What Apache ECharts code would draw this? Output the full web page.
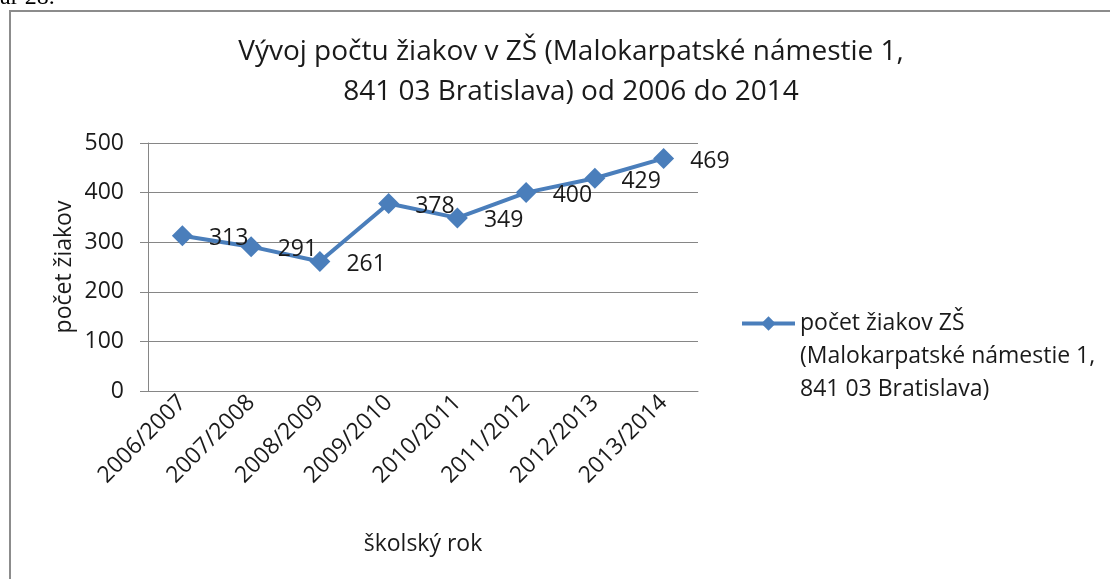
<!DOCTYPE html>
<html>
<head>
<meta charset="utf-8">
<script src="https://cdn.jsdelivr.net/npm/echarts@6/dist/echarts.min.js"></script>
<style>
  html, body { margin: 0; padding: 0; background: #fff; }
  #chart { width: 1110px; height: 579px; }
</style>
</head>
<body>
<div id="chart"></div>
<script>
// školské roky a počty žiakov
var years = ['2006/2007', '2007/2008', '2008/2009', '2009/2010', '2010/2011', '2011/2012', '2012/2013', '2013/2014'];
var pupils = [313, 291, 261, 378, 349, 400, 429, 469];
var yTicks = [0, 100, 200, 300, 400, 500];

var seriesName = 'počet žiakov ZŠ\n(Malokarpatské námestie 1,\n841 03 Bratislava)';
var font = '"Open Sans", "Noto Sans", sans-serif';
var blue = '#4a7ebb';
var ink = '#1a1a1a';

var chart = echarts.init(document.getElementById('chart'));

chart.setOption({
    backgroundColor: '#fff',
    animation: false,
    textStyle: { fontFamily: font, color: ink },
    title: {
        text: 'Vývoj počtu žiakov v ZŠ (Malokarpatské námestie 1,\n841 03 Bratislava) od 2006 do 2014',
        left: 566,
        textAlign: 'center',
        top: 27,
        textStyle: { fontFamily: font, fontSize: 28, fontWeight: 'normal', color: ink, lineHeight: 40 }
    },
    graphic: [
        {
            type: 'rect',
            shape: { x: 10, y: 11, width: 1110, height: 600 },
            style: { fill: 'none', stroke: '#8c8c8c', lineWidth: 2 },
            silent: true
        },
        {
            type: 'text',
            left: 0,
            top: -14,
            style: { text: 'ar 28.', font: '24px "Liberation Serif", serif', fill: '#000' },
            silent: true
        }
    ],
    legend: {
        data: [seriesName],
        left: 740,
        top: 241,
        padding: 0,
        itemWidth: 53,
        itemHeight: 18,
        itemGap: 0,
        lineStyle: { width: 4, color: blue },
        itemStyle: { color: blue },
        // dva prázdne riadky navrch, aby bol prvý riadok pri ikone
        formatter: function (name) { return '\n\n' + name; },
        textStyle: { fontFamily: font, fontSize: 23, color: ink, lineHeight: 33 }
    },
    grid: { left: 148, top: 143, width: 550, height: 248, containLabel: false },
    xAxis: {
        type: 'category',
        data: years,
        name: 'školský rok',
        nameLocation: 'middle',
        nameGap: 142,
        nameTextStyle: { fontFamily: font, fontSize: 23, color: ink, verticalAlign: 'top' },
        axisLine: { lineStyle: { color: '#868686', width: 1 } },
        axisTick: { show: false },
        axisLabel: { rotate: 45, fontSize: 23, color: ink, margin: 8, interval: 0 }
    },
    yAxis: {
        type: 'value',
        min: 0,
        max: 500,
        interval: 100,
        name: 'počet žiakov',
        nameLocation: 'middle',
        nameGap: 72,
        nameTextStyle: { fontFamily: font, fontSize: 23, color: ink },
        axisLine: { show: true, lineStyle: { color: '#868686', width: 1 } },
        axisTick: { show: true, inside: false, length: 8, lineStyle: { color: '#868686' } },
        splitLine: { lineStyle: { color: '#868686', width: 1 } },
        axisLabel: {
            fontSize: 23, color: ink, margin: 24,
            formatter: function (v) { return yTicks.indexOf(v) >= 0 ? String(v) : ''; }
        }
    },
    series: [
        {
            name: seriesName,
            type: 'line',
            data: pupils,
            symbol: 'diamond',
            symbolSize: 21,
            lineStyle: { color: blue, width: 4 },
            itemStyle: { color: blue },
            label: {
                show: true,
                position: 'right',
                distance: 16,
                offset: [0, 3],
                fontSize: 23,
                color: ink,
                fontFamily: font
            }
        }
    ]
});
</script>
</body>
</html>
